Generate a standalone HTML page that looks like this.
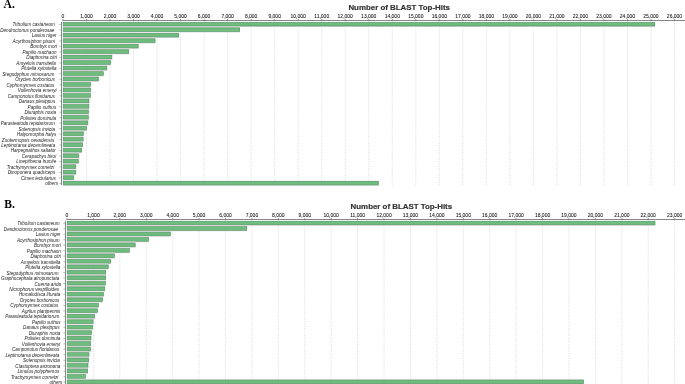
<!DOCTYPE html>
<html><head><meta charset="utf-8"><style>
html,body{margin:0;padding:0;background:#fff;width:685px;height:384px;overflow:hidden}
svg{display:block;will-change:transform}
.lb{font-family:"Liberation Sans",sans-serif;font-style:italic;font-size:4.6px;fill:#222;text-anchor:end}
.tl{font-family:"Liberation Sans",sans-serif;font-size:5px;fill:#1a1a1a;stroke:#1a1a1a;stroke-width:0.08px;text-anchor:middle}
.tt{font-family:"Liberation Sans",sans-serif;font-weight:bold;font-size:7.9px;fill:#333;stroke:#333;stroke-width:0.18px}
.pl{font-family:"Liberation Serif",serif;font-weight:bold;font-size:11.6px;fill:#000}
</style></head><body>
<svg width="685" height="384" viewBox="0 0 685 384">
<line x1="86.52" y1="20.80" x2="86.52" y2="185.00" stroke="#cbcbcb" stroke-width="0.6" stroke-dasharray="1.2 1.1"/>
<line x1="110.04" y1="20.80" x2="110.04" y2="185.00" stroke="#cbcbcb" stroke-width="0.6" stroke-dasharray="1.2 1.1"/>
<line x1="133.56" y1="20.80" x2="133.56" y2="185.00" stroke="#cbcbcb" stroke-width="0.6" stroke-dasharray="1.2 1.1"/>
<line x1="157.08" y1="20.80" x2="157.08" y2="185.00" stroke="#cbcbcb" stroke-width="0.6" stroke-dasharray="1.2 1.1"/>
<line x1="180.60" y1="20.80" x2="180.60" y2="185.00" stroke="#cbcbcb" stroke-width="0.6" stroke-dasharray="1.2 1.1"/>
<line x1="204.12" y1="20.80" x2="204.12" y2="185.00" stroke="#cbcbcb" stroke-width="0.6" stroke-dasharray="1.2 1.1"/>
<line x1="227.64" y1="20.80" x2="227.64" y2="185.00" stroke="#cbcbcb" stroke-width="0.6" stroke-dasharray="1.2 1.1"/>
<line x1="251.16" y1="20.80" x2="251.16" y2="185.00" stroke="#cbcbcb" stroke-width="0.6" stroke-dasharray="1.2 1.1"/>
<line x1="274.68" y1="20.80" x2="274.68" y2="185.00" stroke="#cbcbcb" stroke-width="0.6" stroke-dasharray="1.2 1.1"/>
<line x1="298.20" y1="20.80" x2="298.20" y2="185.00" stroke="#cbcbcb" stroke-width="0.6" stroke-dasharray="1.2 1.1"/>
<line x1="321.72" y1="20.80" x2="321.72" y2="185.00" stroke="#cbcbcb" stroke-width="0.6" stroke-dasharray="1.2 1.1"/>
<line x1="345.24" y1="20.80" x2="345.24" y2="185.00" stroke="#cbcbcb" stroke-width="0.6" stroke-dasharray="1.2 1.1"/>
<line x1="368.76" y1="20.80" x2="368.76" y2="185.00" stroke="#cbcbcb" stroke-width="0.6" stroke-dasharray="1.2 1.1"/>
<line x1="392.28" y1="20.80" x2="392.28" y2="185.00" stroke="#cbcbcb" stroke-width="0.6" stroke-dasharray="1.2 1.1"/>
<line x1="415.80" y1="20.80" x2="415.80" y2="185.00" stroke="#cbcbcb" stroke-width="0.6" stroke-dasharray="1.2 1.1"/>
<line x1="439.32" y1="20.80" x2="439.32" y2="185.00" stroke="#cbcbcb" stroke-width="0.6" stroke-dasharray="1.2 1.1"/>
<line x1="462.84" y1="20.80" x2="462.84" y2="185.00" stroke="#cbcbcb" stroke-width="0.6" stroke-dasharray="1.2 1.1"/>
<line x1="486.36" y1="20.80" x2="486.36" y2="185.00" stroke="#cbcbcb" stroke-width="0.6" stroke-dasharray="1.2 1.1"/>
<line x1="509.88" y1="20.80" x2="509.88" y2="185.00" stroke="#cbcbcb" stroke-width="0.6" stroke-dasharray="1.2 1.1"/>
<line x1="533.40" y1="20.80" x2="533.40" y2="185.00" stroke="#cbcbcb" stroke-width="0.6" stroke-dasharray="1.2 1.1"/>
<line x1="556.92" y1="20.80" x2="556.92" y2="185.00" stroke="#cbcbcb" stroke-width="0.6" stroke-dasharray="1.2 1.1"/>
<line x1="580.44" y1="20.80" x2="580.44" y2="185.00" stroke="#cbcbcb" stroke-width="0.6" stroke-dasharray="1.2 1.1"/>
<line x1="603.96" y1="20.80" x2="603.96" y2="185.00" stroke="#cbcbcb" stroke-width="0.6" stroke-dasharray="1.2 1.1"/>
<line x1="627.48" y1="20.80" x2="627.48" y2="185.00" stroke="#cbcbcb" stroke-width="0.6" stroke-dasharray="1.2 1.1"/>
<line x1="651.00" y1="20.80" x2="651.00" y2="185.00" stroke="#cbcbcb" stroke-width="0.6" stroke-dasharray="1.2 1.1"/>
<line x1="674.52" y1="20.80" x2="674.52" y2="185.00" stroke="#cbcbcb" stroke-width="0.6" stroke-dasharray="1.2 1.1"/>
<rect x="63.30" y="26.20" width="591.90" height="0.8" fill="#d9d9d9"/>
<rect x="63.20" y="22.40" width="591.50" height="3.60" fill="#6fbd7e" stroke="#4f9060" stroke-width="0.6"/>
<text x="54.90" y="26.45" class="lb">Tribolium castaneum</text>
<line x1="59.40" y1="24.50" x2="61.00" y2="24.50" stroke="#868686" stroke-width="0.6"/>
<rect x="63.30" y="31.68" width="176.90" height="0.8" fill="#d9d9d9"/>
<rect x="63.00" y="26.23" width="176.90" height="1.45" fill="#cfcfcf"/>
<rect x="63.20" y="27.88" width="176.50" height="3.60" fill="#6fbd7e" stroke="#4f9060" stroke-width="0.6"/>
<text x="54.40" y="31.93" class="lb">Dendroctonus ponderosae</text>
<line x1="59.40" y1="29.98" x2="61.00" y2="29.98" stroke="#868686" stroke-width="0.6"/>
<rect x="63.30" y="37.16" width="115.90" height="0.8" fill="#d9d9d9"/>
<rect x="63.00" y="32.71" width="115.90" height="0.45" fill="#d8d8d8"/>
<rect x="63.20" y="33.36" width="115.50" height="3.60" fill="#6fbd7e" stroke="#4f9060" stroke-width="0.6"/>
<text x="56.50" y="37.41" class="lb">Lasius niger</text>
<line x1="59.40" y1="35.46" x2="61.00" y2="35.46" stroke="#868686" stroke-width="0.6"/>
<rect x="63.30" y="42.64" width="92.30" height="0.8" fill="#d9d9d9"/>
<rect x="63.00" y="37.19" width="92.30" height="1.45" fill="#cfcfcf"/>
<rect x="63.20" y="38.84" width="91.90" height="3.60" fill="#6fbd7e" stroke="#4f9060" stroke-width="0.6"/>
<text x="55.20" y="42.89" class="lb">Acyrthosiphon pisum</text>
<line x1="59.40" y1="40.94" x2="61.00" y2="40.94" stroke="#868686" stroke-width="0.6"/>
<rect x="63.30" y="48.12" width="75.40" height="0.8" fill="#d9d9d9"/>
<rect x="63.00" y="43.67" width="75.40" height="0.45" fill="#d8d8d8"/>
<rect x="63.20" y="44.32" width="75.00" height="3.60" fill="#6fbd7e" stroke="#4f9060" stroke-width="0.6"/>
<text x="57.00" y="48.37" class="lb">Bombyx mori</text>
<line x1="59.40" y1="46.42" x2="61.00" y2="46.42" stroke="#868686" stroke-width="0.6"/>
<rect x="63.30" y="53.60" width="66.00" height="0.8" fill="#d9d9d9"/>
<rect x="63.00" y="48.15" width="66.00" height="1.45" fill="#cfcfcf"/>
<rect x="63.20" y="49.80" width="65.60" height="3.60" fill="#6fbd7e" stroke="#4f9060" stroke-width="0.6"/>
<text x="56.50" y="53.85" class="lb">Papilio machaon</text>
<line x1="59.40" y1="51.90" x2="61.00" y2="51.90" stroke="#868686" stroke-width="0.6"/>
<rect x="63.30" y="59.08" width="49.10" height="0.8" fill="#d9d9d9"/>
<rect x="63.00" y="54.63" width="49.10" height="0.45" fill="#d8d8d8"/>
<rect x="63.20" y="55.28" width="48.70" height="3.60" fill="#6fbd7e" stroke="#4f9060" stroke-width="0.6"/>
<text x="57.00" y="59.33" class="lb">Diaphorina citri</text>
<line x1="59.40" y1="57.38" x2="61.00" y2="57.38" stroke="#868686" stroke-width="0.6"/>
<rect x="63.30" y="64.56" width="47.80" height="0.8" fill="#d9d9d9"/>
<rect x="63.00" y="59.11" width="47.80" height="1.45" fill="#cfcfcf"/>
<rect x="63.20" y="60.76" width="47.40" height="3.60" fill="#6fbd7e" stroke="#4f9060" stroke-width="0.6"/>
<text x="55.90" y="64.81" class="lb">Amyelois transitella</text>
<line x1="59.40" y1="62.86" x2="61.00" y2="62.86" stroke="#868686" stroke-width="0.6"/>
<rect x="63.30" y="70.04" width="44.10" height="0.8" fill="#d9d9d9"/>
<rect x="63.00" y="65.59" width="44.10" height="0.45" fill="#d8d8d8"/>
<rect x="63.20" y="66.24" width="43.70" height="3.60" fill="#6fbd7e" stroke="#4f9060" stroke-width="0.6"/>
<text x="56.50" y="70.29" class="lb">Plutella xylostella</text>
<line x1="59.40" y1="68.34" x2="61.00" y2="68.34" stroke="#868686" stroke-width="0.6"/>
<rect x="63.30" y="75.52" width="40.60" height="0.8" fill="#d9d9d9"/>
<rect x="63.00" y="70.07" width="40.60" height="1.45" fill="#cfcfcf"/>
<rect x="63.20" y="71.72" width="40.20" height="3.60" fill="#6fbd7e" stroke="#4f9060" stroke-width="0.6"/>
<text x="54.40" y="75.77" class="lb">Stegodyphus mimosarum</text>
<line x1="59.40" y1="73.82" x2="61.00" y2="73.82" stroke="#868686" stroke-width="0.6"/>
<rect x="63.30" y="81.00" width="35.70" height="0.8" fill="#d9d9d9"/>
<rect x="63.00" y="76.00" width="35.70" height="1.0" fill="#dadada"/>
<rect x="63.20" y="77.20" width="35.30" height="3.60" fill="#6fbd7e" stroke="#4f9060" stroke-width="0.6"/>
<text x="54.90" y="81.25" class="lb">Oryctes borbonicus</text>
<line x1="59.40" y1="79.30" x2="61.00" y2="79.30" stroke="#868686" stroke-width="0.6"/>
<rect x="63.30" y="86.48" width="27.80" height="0.8" fill="#d9d9d9"/>
<rect x="63.00" y="81.48" width="27.80" height="1.0" fill="#dadada"/>
<rect x="63.20" y="82.68" width="27.40" height="3.60" fill="#6fbd7e" stroke="#4f9060" stroke-width="0.6"/>
<text x="54.40" y="86.73" class="lb">Cyphomyrmex costatus</text>
<line x1="59.40" y1="84.78" x2="61.00" y2="84.78" stroke="#868686" stroke-width="0.6"/>
<rect x="63.30" y="91.96" width="27.80" height="0.8" fill="#d9d9d9"/>
<rect x="63.00" y="86.96" width="27.80" height="1.0" fill="#dadada"/>
<rect x="63.20" y="88.16" width="27.40" height="3.60" fill="#6fbd7e" stroke="#4f9060" stroke-width="0.6"/>
<text x="56.50" y="92.21" class="lb">Vollenhovia emeryi</text>
<line x1="59.40" y1="90.26" x2="61.00" y2="90.26" stroke="#868686" stroke-width="0.6"/>
<rect x="63.30" y="97.44" width="27.60" height="0.8" fill="#d9d9d9"/>
<rect x="63.00" y="92.44" width="27.60" height="1.0" fill="#dadada"/>
<rect x="63.20" y="93.64" width="27.20" height="3.60" fill="#6fbd7e" stroke="#4f9060" stroke-width="0.6"/>
<text x="54.90" y="97.69" class="lb">Camponotus floridanus</text>
<line x1="59.40" y1="95.74" x2="61.00" y2="95.74" stroke="#868686" stroke-width="0.6"/>
<rect x="63.30" y="102.92" width="26.20" height="0.8" fill="#d9d9d9"/>
<rect x="63.00" y="97.92" width="26.20" height="1.0" fill="#dadada"/>
<rect x="63.20" y="99.12" width="25.80" height="3.60" fill="#6fbd7e" stroke="#4f9060" stroke-width="0.6"/>
<text x="55.20" y="103.17" class="lb">Danaus plexippus</text>
<line x1="59.40" y1="101.22" x2="61.00" y2="101.22" stroke="#868686" stroke-width="0.6"/>
<rect x="63.30" y="108.40" width="26.10" height="0.8" fill="#d9d9d9"/>
<rect x="63.00" y="103.40" width="26.10" height="1.0" fill="#dadada"/>
<rect x="63.20" y="104.60" width="25.70" height="3.60" fill="#6fbd7e" stroke="#4f9060" stroke-width="0.6"/>
<text x="56.20" y="108.65" class="lb">Papilio xuthus</text>
<line x1="59.40" y1="106.70" x2="61.00" y2="106.70" stroke="#868686" stroke-width="0.6"/>
<rect x="63.30" y="113.88" width="25.80" height="0.8" fill="#d9d9d9"/>
<rect x="63.00" y="108.88" width="25.80" height="1.0" fill="#dadada"/>
<rect x="63.20" y="110.08" width="25.40" height="3.60" fill="#6fbd7e" stroke="#4f9060" stroke-width="0.6"/>
<text x="56.20" y="114.13" class="lb">Diuraphis noxia</text>
<line x1="59.40" y1="112.18" x2="61.00" y2="112.18" stroke="#868686" stroke-width="0.6"/>
<rect x="63.30" y="119.36" width="25.50" height="0.8" fill="#d9d9d9"/>
<rect x="63.00" y="114.91" width="25.50" height="0.45" fill="#d8d8d8"/>
<rect x="63.20" y="115.56" width="25.10" height="3.60" fill="#6fbd7e" stroke="#4f9060" stroke-width="0.6"/>
<text x="56.20" y="119.61" class="lb">Polistes dominula</text>
<line x1="59.40" y1="117.66" x2="61.00" y2="117.66" stroke="#868686" stroke-width="0.6"/>
<rect x="63.30" y="124.84" width="25.10" height="0.8" fill="#d9d9d9"/>
<rect x="63.00" y="119.39" width="25.10" height="1.45" fill="#cfcfcf"/>
<rect x="63.20" y="121.04" width="24.70" height="3.60" fill="#6fbd7e" stroke="#4f9060" stroke-width="0.6"/>
<text x="54.90" y="125.09" class="lb">Parasteatoda tepidariorum</text>
<line x1="59.40" y1="123.14" x2="61.00" y2="123.14" stroke="#868686" stroke-width="0.6"/>
<rect x="63.30" y="130.32" width="23.50" height="0.8" fill="#d9d9d9"/>
<rect x="63.00" y="125.87" width="23.50" height="0.45" fill="#d8d8d8"/>
<rect x="63.20" y="126.52" width="23.10" height="3.60" fill="#6fbd7e" stroke="#4f9060" stroke-width="0.6"/>
<text x="55.20" y="130.57" class="lb">Solenopsis invicta</text>
<line x1="59.40" y1="128.62" x2="61.00" y2="128.62" stroke="#868686" stroke-width="0.6"/>
<rect x="63.30" y="135.80" width="20.70" height="0.8" fill="#d9d9d9"/>
<rect x="63.00" y="130.35" width="20.70" height="1.45" fill="#cfcfcf"/>
<rect x="63.20" y="132.00" width="20.30" height="3.60" fill="#6fbd7e" stroke="#4f9060" stroke-width="0.6"/>
<text x="56.20" y="136.05" class="lb">Halyomorpha halys</text>
<line x1="59.40" y1="134.10" x2="61.00" y2="134.10" stroke="#868686" stroke-width="0.6"/>
<rect x="63.30" y="141.28" width="20.30" height="0.8" fill="#d9d9d9"/>
<rect x="63.00" y="136.83" width="20.30" height="0.45" fill="#d8d8d8"/>
<rect x="63.20" y="137.48" width="19.90" height="3.60" fill="#6fbd7e" stroke="#4f9060" stroke-width="0.6"/>
<text x="54.20" y="141.53" class="lb">Zootermopsis nevadensis</text>
<line x1="59.40" y1="139.58" x2="61.00" y2="139.58" stroke="#868686" stroke-width="0.6"/>
<rect x="63.30" y="146.76" width="19.90" height="0.8" fill="#d9d9d9"/>
<rect x="63.00" y="141.31" width="19.90" height="1.45" fill="#cfcfcf"/>
<rect x="63.20" y="142.96" width="19.50" height="3.60" fill="#6fbd7e" stroke="#4f9060" stroke-width="0.6"/>
<text x="55.20" y="147.01" class="lb">Leptinotarsa decemlineata</text>
<line x1="59.40" y1="145.06" x2="61.00" y2="145.06" stroke="#868686" stroke-width="0.6"/>
<rect x="63.30" y="152.24" width="18.90" height="0.8" fill="#d9d9d9"/>
<rect x="63.00" y="147.79" width="18.90" height="0.45" fill="#d8d8d8"/>
<rect x="63.20" y="148.44" width="18.50" height="3.60" fill="#6fbd7e" stroke="#4f9060" stroke-width="0.6"/>
<text x="55.90" y="152.49" class="lb">Harpegnathos saltator</text>
<line x1="59.40" y1="150.54" x2="61.00" y2="150.54" stroke="#868686" stroke-width="0.6"/>
<rect x="63.30" y="157.72" width="16.00" height="0.8" fill="#d9d9d9"/>
<rect x="63.00" y="152.27" width="16.00" height="1.45" fill="#cfcfcf"/>
<rect x="63.20" y="153.92" width="15.60" height="3.60" fill="#6fbd7e" stroke="#4f9060" stroke-width="0.6"/>
<text x="56.20" y="157.97" class="lb">Cerapachys biroi</text>
<line x1="59.40" y1="156.02" x2="61.00" y2="156.02" stroke="#868686" stroke-width="0.6"/>
<rect x="63.30" y="163.20" width="15.50" height="0.8" fill="#d9d9d9"/>
<rect x="63.00" y="158.75" width="15.50" height="0.45" fill="#d8d8d8"/>
<rect x="63.20" y="159.40" width="15.10" height="3.60" fill="#6fbd7e" stroke="#4f9060" stroke-width="0.6"/>
<text x="56.20" y="163.45" class="lb">Linepithema humile</text>
<line x1="59.40" y1="161.50" x2="61.00" y2="161.50" stroke="#868686" stroke-width="0.6"/>
<rect x="63.30" y="168.68" width="13.00" height="0.8" fill="#d9d9d9"/>
<rect x="63.00" y="163.23" width="13.00" height="1.45" fill="#cfcfcf"/>
<rect x="63.20" y="164.88" width="12.60" height="3.60" fill="#6fbd7e" stroke="#4f9060" stroke-width="0.6"/>
<text x="54.20" y="168.93" class="lb">Trachymyrmex cornetzi</text>
<line x1="59.40" y1="166.98" x2="61.00" y2="166.98" stroke="#868686" stroke-width="0.6"/>
<rect x="63.30" y="174.16" width="13.00" height="0.8" fill="#d9d9d9"/>
<rect x="63.00" y="169.71" width="13.00" height="0.45" fill="#d8d8d8"/>
<rect x="63.20" y="170.36" width="12.60" height="3.60" fill="#6fbd7e" stroke="#4f9060" stroke-width="0.6"/>
<text x="55.20" y="174.41" class="lb">Dinoponera quadriceps</text>
<line x1="59.40" y1="172.46" x2="61.00" y2="172.46" stroke="#868686" stroke-width="0.6"/>
<rect x="63.30" y="179.64" width="11.00" height="0.8" fill="#d9d9d9"/>
<rect x="63.00" y="174.19" width="11.00" height="1.45" fill="#cfcfcf"/>
<rect x="63.20" y="175.84" width="10.60" height="3.60" fill="#6fbd7e" stroke="#4f9060" stroke-width="0.6"/>
<text x="55.90" y="179.89" class="lb">Cimex lectularius</text>
<line x1="59.40" y1="177.94" x2="61.00" y2="177.94" stroke="#868686" stroke-width="0.6"/>
<rect x="63.30" y="185.12" width="315.60" height="0.8" fill="#d9d9d9"/>
<rect x="63.00" y="180.67" width="315.60" height="0.45" fill="#d8d8d8"/>
<rect x="63.20" y="181.32" width="315.20" height="3.60" fill="#6fbd7e" stroke="#4f9060" stroke-width="0.6"/>
<text x="58.00" y="185.37" class="lb">others</text>
<line x1="59.40" y1="183.42" x2="61.00" y2="183.42" stroke="#868686" stroke-width="0.6"/>
<rect x="61.00" y="22.00" width="1" height="163.00" fill="#868686"/>
<rect x="62.50" y="20.00" width="622.50" height="1" fill="#868686"/>
<line x1="63.00" y1="19.00" x2="63.00" y2="20.60" stroke="#555" stroke-width="0.6"/>
<text x="63.00" y="17.60" class="tl">0</text>
<line x1="86.52" y1="19.00" x2="86.52" y2="20.60" stroke="#555" stroke-width="0.6"/>
<text x="86.52" y="17.60" class="tl">1,000</text>
<line x1="110.04" y1="19.00" x2="110.04" y2="20.60" stroke="#555" stroke-width="0.6"/>
<text x="110.04" y="17.60" class="tl">2,000</text>
<line x1="133.56" y1="19.00" x2="133.56" y2="20.60" stroke="#555" stroke-width="0.6"/>
<text x="133.56" y="17.60" class="tl">3,000</text>
<line x1="157.08" y1="19.00" x2="157.08" y2="20.60" stroke="#555" stroke-width="0.6"/>
<text x="157.08" y="17.60" class="tl">4,000</text>
<line x1="180.60" y1="19.00" x2="180.60" y2="20.60" stroke="#555" stroke-width="0.6"/>
<text x="180.60" y="17.60" class="tl">5,000</text>
<line x1="204.12" y1="19.00" x2="204.12" y2="20.60" stroke="#555" stroke-width="0.6"/>
<text x="204.12" y="17.60" class="tl">6,000</text>
<line x1="227.64" y1="19.00" x2="227.64" y2="20.60" stroke="#555" stroke-width="0.6"/>
<text x="227.64" y="17.60" class="tl">7,000</text>
<line x1="251.16" y1="19.00" x2="251.16" y2="20.60" stroke="#555" stroke-width="0.6"/>
<text x="251.16" y="17.60" class="tl">8,000</text>
<line x1="274.68" y1="19.00" x2="274.68" y2="20.60" stroke="#555" stroke-width="0.6"/>
<text x="274.68" y="17.60" class="tl">9,000</text>
<line x1="298.20" y1="19.00" x2="298.20" y2="20.60" stroke="#555" stroke-width="0.6"/>
<text x="298.20" y="17.60" class="tl">10,000</text>
<line x1="321.72" y1="19.00" x2="321.72" y2="20.60" stroke="#555" stroke-width="0.6"/>
<text x="321.72" y="17.60" class="tl">11,000</text>
<line x1="345.24" y1="19.00" x2="345.24" y2="20.60" stroke="#555" stroke-width="0.6"/>
<text x="345.24" y="17.60" class="tl">12,000</text>
<line x1="368.76" y1="19.00" x2="368.76" y2="20.60" stroke="#555" stroke-width="0.6"/>
<text x="368.76" y="17.60" class="tl">13,000</text>
<line x1="392.28" y1="19.00" x2="392.28" y2="20.60" stroke="#555" stroke-width="0.6"/>
<text x="392.28" y="17.60" class="tl">14,000</text>
<line x1="415.80" y1="19.00" x2="415.80" y2="20.60" stroke="#555" stroke-width="0.6"/>
<text x="415.80" y="17.60" class="tl">15,000</text>
<line x1="439.32" y1="19.00" x2="439.32" y2="20.60" stroke="#555" stroke-width="0.6"/>
<text x="439.32" y="17.60" class="tl">16,000</text>
<line x1="462.84" y1="19.00" x2="462.84" y2="20.60" stroke="#555" stroke-width="0.6"/>
<text x="462.84" y="17.60" class="tl">17,000</text>
<line x1="486.36" y1="19.00" x2="486.36" y2="20.60" stroke="#555" stroke-width="0.6"/>
<text x="486.36" y="17.60" class="tl">18,000</text>
<line x1="509.88" y1="19.00" x2="509.88" y2="20.60" stroke="#555" stroke-width="0.6"/>
<text x="509.88" y="17.60" class="tl">19,000</text>
<line x1="533.40" y1="19.00" x2="533.40" y2="20.60" stroke="#555" stroke-width="0.6"/>
<text x="533.40" y="17.60" class="tl">20,000</text>
<line x1="556.92" y1="19.00" x2="556.92" y2="20.60" stroke="#555" stroke-width="0.6"/>
<text x="556.92" y="17.60" class="tl">21,000</text>
<line x1="580.44" y1="19.00" x2="580.44" y2="20.60" stroke="#555" stroke-width="0.6"/>
<text x="580.44" y="17.60" class="tl">22,000</text>
<line x1="603.96" y1="19.00" x2="603.96" y2="20.60" stroke="#555" stroke-width="0.6"/>
<text x="603.96" y="17.60" class="tl">23,000</text>
<line x1="627.48" y1="19.00" x2="627.48" y2="20.60" stroke="#555" stroke-width="0.6"/>
<text x="627.48" y="17.60" class="tl">24,000</text>
<line x1="651.00" y1="19.00" x2="651.00" y2="20.60" stroke="#555" stroke-width="0.6"/>
<text x="651.00" y="17.60" class="tl">25,000</text>
<line x1="674.52" y1="19.00" x2="674.52" y2="20.60" stroke="#555" stroke-width="0.6"/>
<text x="674.52" y="17.60" class="tl">26,000</text>
<text x="348.40" y="10.20" class="tt">Number of BLAST Top-Hits</text>
<text x="3.60" y="7.70" class="pl">A.</text>
<line x1="93.42" y1="219.80" x2="93.42" y2="384.50" stroke="#cbcbcb" stroke-width="0.6" stroke-dasharray="1.2 1.1"/>
<line x1="119.84" y1="219.80" x2="119.84" y2="384.50" stroke="#cbcbcb" stroke-width="0.6" stroke-dasharray="1.2 1.1"/>
<line x1="146.26" y1="219.80" x2="146.26" y2="384.50" stroke="#cbcbcb" stroke-width="0.6" stroke-dasharray="1.2 1.1"/>
<line x1="172.68" y1="219.80" x2="172.68" y2="384.50" stroke="#cbcbcb" stroke-width="0.6" stroke-dasharray="1.2 1.1"/>
<line x1="199.10" y1="219.80" x2="199.10" y2="384.50" stroke="#cbcbcb" stroke-width="0.6" stroke-dasharray="1.2 1.1"/>
<line x1="225.52" y1="219.80" x2="225.52" y2="384.50" stroke="#cbcbcb" stroke-width="0.6" stroke-dasharray="1.2 1.1"/>
<line x1="251.94" y1="219.80" x2="251.94" y2="384.50" stroke="#cbcbcb" stroke-width="0.6" stroke-dasharray="1.2 1.1"/>
<line x1="278.36" y1="219.80" x2="278.36" y2="384.50" stroke="#cbcbcb" stroke-width="0.6" stroke-dasharray="1.2 1.1"/>
<line x1="304.78" y1="219.80" x2="304.78" y2="384.50" stroke="#cbcbcb" stroke-width="0.6" stroke-dasharray="1.2 1.1"/>
<line x1="331.20" y1="219.80" x2="331.20" y2="384.50" stroke="#cbcbcb" stroke-width="0.6" stroke-dasharray="1.2 1.1"/>
<line x1="357.62" y1="219.80" x2="357.62" y2="384.50" stroke="#cbcbcb" stroke-width="0.6" stroke-dasharray="1.2 1.1"/>
<line x1="384.04" y1="219.80" x2="384.04" y2="384.50" stroke="#cbcbcb" stroke-width="0.6" stroke-dasharray="1.2 1.1"/>
<line x1="410.46" y1="219.80" x2="410.46" y2="384.50" stroke="#cbcbcb" stroke-width="0.6" stroke-dasharray="1.2 1.1"/>
<line x1="436.88" y1="219.80" x2="436.88" y2="384.50" stroke="#cbcbcb" stroke-width="0.6" stroke-dasharray="1.2 1.1"/>
<line x1="463.30" y1="219.80" x2="463.30" y2="384.50" stroke="#cbcbcb" stroke-width="0.6" stroke-dasharray="1.2 1.1"/>
<line x1="489.72" y1="219.80" x2="489.72" y2="384.50" stroke="#cbcbcb" stroke-width="0.6" stroke-dasharray="1.2 1.1"/>
<line x1="516.14" y1="219.80" x2="516.14" y2="384.50" stroke="#cbcbcb" stroke-width="0.6" stroke-dasharray="1.2 1.1"/>
<line x1="542.56" y1="219.80" x2="542.56" y2="384.50" stroke="#cbcbcb" stroke-width="0.6" stroke-dasharray="1.2 1.1"/>
<line x1="568.98" y1="219.80" x2="568.98" y2="384.50" stroke="#cbcbcb" stroke-width="0.6" stroke-dasharray="1.2 1.1"/>
<line x1="595.40" y1="219.80" x2="595.40" y2="384.50" stroke="#cbcbcb" stroke-width="0.6" stroke-dasharray="1.2 1.1"/>
<line x1="621.82" y1="219.80" x2="621.82" y2="384.50" stroke="#cbcbcb" stroke-width="0.6" stroke-dasharray="1.2 1.1"/>
<line x1="648.24" y1="219.80" x2="648.24" y2="384.50" stroke="#cbcbcb" stroke-width="0.6" stroke-dasharray="1.2 1.1"/>
<line x1="674.66" y1="219.80" x2="674.66" y2="384.50" stroke="#cbcbcb" stroke-width="0.6" stroke-dasharray="1.2 1.1"/>
<rect x="67.30" y="225.00" width="588.20" height="0.8" fill="#d9d9d9"/>
<rect x="67.20" y="221.20" width="587.80" height="3.60" fill="#6fbd7e" stroke="#4f9060" stroke-width="0.6"/>
<text x="59.60" y="225.25" class="lb">Tribolium castaneum</text>
<line x1="63.40" y1="223.30" x2="65.00" y2="223.30" stroke="#868686" stroke-width="0.6"/>
<rect x="67.30" y="230.48" width="179.90" height="0.8" fill="#d9d9d9"/>
<rect x="67.00" y="225.48" width="179.90" height="1.0" fill="#dadada"/>
<rect x="67.20" y="226.68" width="179.50" height="3.60" fill="#6fbd7e" stroke="#4f9060" stroke-width="0.6"/>
<text x="58.00" y="230.73" class="lb">Dendroctonus ponderosae</text>
<line x1="63.40" y1="228.78" x2="65.00" y2="228.78" stroke="#868686" stroke-width="0.6"/>
<rect x="67.30" y="235.96" width="103.60" height="0.8" fill="#d9d9d9"/>
<rect x="67.00" y="230.96" width="103.60" height="1.0" fill="#dadada"/>
<rect x="67.20" y="232.16" width="103.20" height="3.60" fill="#6fbd7e" stroke="#4f9060" stroke-width="0.6"/>
<text x="60.60" y="236.21" class="lb">Lasius niger</text>
<line x1="63.40" y1="234.26" x2="65.00" y2="234.26" stroke="#868686" stroke-width="0.6"/>
<rect x="67.30" y="241.44" width="81.80" height="0.8" fill="#d9d9d9"/>
<rect x="67.00" y="236.44" width="81.80" height="1.0" fill="#dadada"/>
<rect x="67.20" y="237.64" width="81.40" height="3.60" fill="#6fbd7e" stroke="#4f9060" stroke-width="0.6"/>
<text x="59.60" y="241.69" class="lb">Acyrthosiphon pisum</text>
<line x1="63.40" y1="239.74" x2="65.00" y2="239.74" stroke="#868686" stroke-width="0.6"/>
<rect x="67.30" y="246.92" width="68.40" height="0.8" fill="#d9d9d9"/>
<rect x="67.00" y="241.47" width="68.40" height="1.45" fill="#cfcfcf"/>
<rect x="67.20" y="243.12" width="68.00" height="3.60" fill="#6fbd7e" stroke="#4f9060" stroke-width="0.6"/>
<text x="60.80" y="247.17" class="lb">Bombyx mori</text>
<line x1="63.40" y1="245.22" x2="65.00" y2="245.22" stroke="#868686" stroke-width="0.6"/>
<rect x="67.30" y="252.40" width="62.60" height="0.8" fill="#d9d9d9"/>
<rect x="67.00" y="247.95" width="62.60" height="0.45" fill="#d8d8d8"/>
<rect x="67.20" y="248.60" width="62.20" height="3.60" fill="#6fbd7e" stroke="#4f9060" stroke-width="0.6"/>
<text x="60.80" y="252.65" class="lb">Papilio machaon</text>
<line x1="63.40" y1="250.70" x2="65.00" y2="250.70" stroke="#868686" stroke-width="0.6"/>
<rect x="67.30" y="257.88" width="47.70" height="0.8" fill="#d9d9d9"/>
<rect x="67.00" y="252.43" width="47.70" height="1.45" fill="#cfcfcf"/>
<rect x="67.20" y="254.08" width="47.30" height="3.60" fill="#6fbd7e" stroke="#4f9060" stroke-width="0.6"/>
<text x="61.10" y="258.13" class="lb">Diaphorina citri</text>
<line x1="63.40" y1="256.18" x2="65.00" y2="256.18" stroke="#868686" stroke-width="0.6"/>
<rect x="67.30" y="263.36" width="43.80" height="0.8" fill="#d9d9d9"/>
<rect x="67.00" y="258.91" width="43.80" height="0.45" fill="#d8d8d8"/>
<rect x="67.20" y="259.56" width="43.40" height="3.60" fill="#6fbd7e" stroke="#4f9060" stroke-width="0.6"/>
<text x="60.40" y="263.61" class="lb">Amyelois transitella</text>
<line x1="63.40" y1="261.66" x2="65.00" y2="261.66" stroke="#868686" stroke-width="0.6"/>
<rect x="67.30" y="268.84" width="41.50" height="0.8" fill="#d9d9d9"/>
<rect x="67.00" y="263.39" width="41.50" height="1.45" fill="#cfcfcf"/>
<rect x="67.20" y="265.04" width="41.10" height="3.60" fill="#6fbd7e" stroke="#4f9060" stroke-width="0.6"/>
<text x="60.40" y="269.09" class="lb">Plutella xylostella</text>
<line x1="63.40" y1="267.14" x2="65.00" y2="267.14" stroke="#868686" stroke-width="0.6"/>
<rect x="67.30" y="274.32" width="38.90" height="0.8" fill="#d9d9d9"/>
<rect x="67.00" y="269.87" width="38.90" height="0.45" fill="#d8d8d8"/>
<rect x="67.20" y="270.52" width="38.50" height="3.60" fill="#6fbd7e" stroke="#4f9060" stroke-width="0.6"/>
<text x="58.50" y="274.57" class="lb">Stegodyphus mimosarum</text>
<line x1="63.40" y1="272.62" x2="65.00" y2="272.62" stroke="#868686" stroke-width="0.6"/>
<rect x="67.30" y="279.80" width="38.90" height="0.8" fill="#d9d9d9"/>
<rect x="67.00" y="274.35" width="38.90" height="1.45" fill="#cfcfcf"/>
<rect x="67.20" y="276.00" width="38.50" height="3.60" fill="#6fbd7e" stroke="#4f9060" stroke-width="0.6"/>
<text x="59.30" y="280.05" class="lb">Graphocephala atropunctata</text>
<line x1="63.40" y1="278.10" x2="65.00" y2="278.10" stroke="#868686" stroke-width="0.6"/>
<rect x="67.30" y="285.28" width="38.60" height="0.8" fill="#d9d9d9"/>
<rect x="67.00" y="280.83" width="38.60" height="0.45" fill="#d8d8d8"/>
<rect x="67.20" y="281.48" width="38.20" height="3.60" fill="#6fbd7e" stroke="#4f9060" stroke-width="0.6"/>
<text x="61.10" y="285.53" class="lb">Cuerna arida</text>
<line x1="63.40" y1="283.58" x2="65.00" y2="283.58" stroke="#868686" stroke-width="0.6"/>
<rect x="67.30" y="290.76" width="38.00" height="0.8" fill="#d9d9d9"/>
<rect x="67.00" y="285.31" width="38.00" height="1.45" fill="#cfcfcf"/>
<rect x="67.20" y="286.96" width="37.60" height="3.60" fill="#6fbd7e" stroke="#4f9060" stroke-width="0.6"/>
<text x="59.00" y="291.01" class="lb">Nicrophorus vespilloides</text>
<line x1="63.40" y1="289.06" x2="65.00" y2="289.06" stroke="#868686" stroke-width="0.6"/>
<rect x="67.30" y="296.24" width="36.70" height="0.8" fill="#d9d9d9"/>
<rect x="67.00" y="291.79" width="36.70" height="0.45" fill="#d8d8d8"/>
<rect x="67.20" y="292.44" width="36.30" height="3.60" fill="#6fbd7e" stroke="#4f9060" stroke-width="0.6"/>
<text x="60.40" y="296.49" class="lb">Homalodisca liturata</text>
<line x1="63.40" y1="294.54" x2="65.00" y2="294.54" stroke="#868686" stroke-width="0.6"/>
<rect x="67.30" y="301.72" width="35.80" height="0.8" fill="#d9d9d9"/>
<rect x="67.00" y="296.27" width="35.80" height="1.45" fill="#cfcfcf"/>
<rect x="67.20" y="297.92" width="35.40" height="3.60" fill="#6fbd7e" stroke="#4f9060" stroke-width="0.6"/>
<text x="59.30" y="301.97" class="lb">Oryctes borbonicus</text>
<line x1="63.40" y1="300.02" x2="65.00" y2="300.02" stroke="#868686" stroke-width="0.6"/>
<rect x="67.30" y="307.20" width="31.60" height="0.8" fill="#d9d9d9"/>
<rect x="67.00" y="302.75" width="31.60" height="0.45" fill="#d8d8d8"/>
<rect x="67.20" y="303.40" width="31.20" height="3.60" fill="#6fbd7e" stroke="#4f9060" stroke-width="0.6"/>
<text x="58.30" y="307.45" class="lb">Cyphomyrmex costatus</text>
<line x1="63.40" y1="305.50" x2="65.00" y2="305.50" stroke="#868686" stroke-width="0.6"/>
<rect x="67.30" y="312.68" width="30.70" height="0.8" fill="#d9d9d9"/>
<rect x="67.00" y="307.68" width="30.70" height="1.0" fill="#dadada"/>
<rect x="67.20" y="308.88" width="30.30" height="3.60" fill="#6fbd7e" stroke="#4f9060" stroke-width="0.6"/>
<text x="60.40" y="312.93" class="lb">Agrilus planipennis</text>
<line x1="63.40" y1="310.98" x2="65.00" y2="310.98" stroke="#868686" stroke-width="0.6"/>
<rect x="67.30" y="318.16" width="27.80" height="0.8" fill="#d9d9d9"/>
<rect x="67.00" y="313.71" width="27.80" height="0.45" fill="#d8d8d8"/>
<rect x="67.20" y="314.36" width="27.40" height="3.60" fill="#6fbd7e" stroke="#4f9060" stroke-width="0.6"/>
<text x="59.30" y="318.41" class="lb">Parasteatoda tepidariorum</text>
<line x1="63.40" y1="316.46" x2="65.00" y2="316.46" stroke="#868686" stroke-width="0.6"/>
<rect x="67.30" y="323.64" width="26.30" height="0.8" fill="#d9d9d9"/>
<rect x="67.00" y="318.64" width="26.30" height="1.0" fill="#dadada"/>
<rect x="67.20" y="319.84" width="25.90" height="3.60" fill="#6fbd7e" stroke="#4f9060" stroke-width="0.6"/>
<text x="60.60" y="323.89" class="lb">Papilio xuthus</text>
<line x1="63.40" y1="321.94" x2="65.00" y2="321.94" stroke="#868686" stroke-width="0.6"/>
<rect x="67.30" y="329.12" width="25.80" height="0.8" fill="#d9d9d9"/>
<rect x="67.00" y="324.67" width="25.80" height="0.45" fill="#d8d8d8"/>
<rect x="67.20" y="325.32" width="25.40" height="3.60" fill="#6fbd7e" stroke="#4f9060" stroke-width="0.6"/>
<text x="59.60" y="329.37" class="lb">Danaus plexippus</text>
<line x1="63.40" y1="327.42" x2="65.00" y2="327.42" stroke="#868686" stroke-width="0.6"/>
<rect x="67.30" y="334.60" width="24.80" height="0.8" fill="#d9d9d9"/>
<rect x="67.00" y="329.60" width="24.80" height="1.0" fill="#dadada"/>
<rect x="67.20" y="330.80" width="24.40" height="3.60" fill="#6fbd7e" stroke="#4f9060" stroke-width="0.6"/>
<text x="60.40" y="334.85" class="lb">Diuraphis noxia</text>
<line x1="63.40" y1="332.90" x2="65.00" y2="332.90" stroke="#868686" stroke-width="0.6"/>
<rect x="67.30" y="340.08" width="24.20" height="0.8" fill="#d9d9d9"/>
<rect x="67.00" y="335.08" width="24.20" height="1.0" fill="#dadada"/>
<rect x="67.20" y="336.28" width="23.80" height="3.60" fill="#6fbd7e" stroke="#4f9060" stroke-width="0.6"/>
<text x="60.40" y="340.33" class="lb">Polistes dominula</text>
<line x1="63.40" y1="338.38" x2="65.00" y2="338.38" stroke="#868686" stroke-width="0.6"/>
<rect x="67.30" y="345.56" width="23.90" height="0.8" fill="#d9d9d9"/>
<rect x="67.00" y="341.11" width="23.90" height="0.45" fill="#d8d8d8"/>
<rect x="67.20" y="341.76" width="23.50" height="3.60" fill="#6fbd7e" stroke="#4f9060" stroke-width="0.6"/>
<text x="60.40" y="345.81" class="lb">Vollenhovia emeryi</text>
<line x1="63.40" y1="343.86" x2="65.00" y2="343.86" stroke="#868686" stroke-width="0.6"/>
<rect x="67.30" y="351.04" width="23.70" height="0.8" fill="#d9d9d9"/>
<rect x="67.00" y="346.04" width="23.70" height="1.0" fill="#dadada"/>
<rect x="67.20" y="347.24" width="23.30" height="3.60" fill="#6fbd7e" stroke="#4f9060" stroke-width="0.6"/>
<text x="59.30" y="351.29" class="lb">Camponotus floridanus</text>
<line x1="63.40" y1="349.34" x2="65.00" y2="349.34" stroke="#868686" stroke-width="0.6"/>
<rect x="67.30" y="356.52" width="22.20" height="0.8" fill="#d9d9d9"/>
<rect x="67.00" y="352.07" width="22.20" height="0.45" fill="#d8d8d8"/>
<rect x="67.20" y="352.72" width="21.80" height="3.60" fill="#6fbd7e" stroke="#4f9060" stroke-width="0.6"/>
<text x="59.30" y="356.77" class="lb">Leptinotarsa decemlineata</text>
<line x1="63.40" y1="354.82" x2="65.00" y2="354.82" stroke="#868686" stroke-width="0.6"/>
<rect x="67.30" y="362.00" width="21.90" height="0.8" fill="#d9d9d9"/>
<rect x="67.00" y="356.55" width="21.90" height="1.45" fill="#cfcfcf"/>
<rect x="67.20" y="358.20" width="21.50" height="3.60" fill="#6fbd7e" stroke="#4f9060" stroke-width="0.6"/>
<text x="59.80" y="362.25" class="lb">Solenopsis invicta</text>
<line x1="63.40" y1="360.30" x2="65.00" y2="360.30" stroke="#868686" stroke-width="0.6"/>
<rect x="67.30" y="367.48" width="21.20" height="0.8" fill="#d9d9d9"/>
<rect x="67.00" y="363.03" width="21.20" height="0.45" fill="#d8d8d8"/>
<rect x="67.20" y="363.68" width="20.80" height="3.60" fill="#6fbd7e" stroke="#4f9060" stroke-width="0.6"/>
<text x="60.30" y="367.73" class="lb">Clastoptera arizonana</text>
<line x1="63.40" y1="365.78" x2="65.00" y2="365.78" stroke="#868686" stroke-width="0.6"/>
<rect x="67.30" y="372.96" width="20.90" height="0.8" fill="#d9d9d9"/>
<rect x="67.00" y="367.51" width="20.90" height="1.45" fill="#cfcfcf"/>
<rect x="67.20" y="369.16" width="20.50" height="3.60" fill="#6fbd7e" stroke="#4f9060" stroke-width="0.6"/>
<text x="59.30" y="373.21" class="lb">Limulus polyphemus</text>
<line x1="63.40" y1="371.26" x2="65.00" y2="371.26" stroke="#868686" stroke-width="0.6"/>
<rect x="67.30" y="378.44" width="18.60" height="0.8" fill="#d9d9d9"/>
<rect x="67.00" y="373.99" width="18.60" height="0.45" fill="#d8d8d8"/>
<rect x="67.20" y="374.64" width="18.20" height="3.60" fill="#6fbd7e" stroke="#4f9060" stroke-width="0.6"/>
<text x="58.30" y="378.69" class="lb">Trachymyrmex cornetzi</text>
<line x1="63.40" y1="376.74" x2="65.00" y2="376.74" stroke="#868686" stroke-width="0.6"/>
<rect x="67.30" y="383.92" width="516.80" height="0.8" fill="#d9d9d9"/>
<rect x="67.00" y="378.92" width="516.80" height="1.0" fill="#dadada"/>
<rect x="67.20" y="380.12" width="516.40" height="3.60" fill="#6fbd7e" stroke="#4f9060" stroke-width="0.6"/>
<text x="62.30" y="384.17" class="lb">others</text>
<line x1="63.40" y1="382.22" x2="65.00" y2="382.22" stroke="#868686" stroke-width="0.6"/>
<rect x="65.00" y="220.80" width="1" height="163.70" fill="#868686"/>
<rect x="66.50" y="219.00" width="618.50" height="1" fill="#868686"/>
<line x1="67.00" y1="218.00" x2="67.00" y2="219.60" stroke="#555" stroke-width="0.6"/>
<text x="67.00" y="216.60" class="tl">0</text>
<line x1="93.42" y1="218.00" x2="93.42" y2="219.60" stroke="#555" stroke-width="0.6"/>
<text x="93.42" y="216.60" class="tl">1,000</text>
<line x1="119.84" y1="218.00" x2="119.84" y2="219.60" stroke="#555" stroke-width="0.6"/>
<text x="119.84" y="216.60" class="tl">2,000</text>
<line x1="146.26" y1="218.00" x2="146.26" y2="219.60" stroke="#555" stroke-width="0.6"/>
<text x="146.26" y="216.60" class="tl">3,000</text>
<line x1="172.68" y1="218.00" x2="172.68" y2="219.60" stroke="#555" stroke-width="0.6"/>
<text x="172.68" y="216.60" class="tl">4,000</text>
<line x1="199.10" y1="218.00" x2="199.10" y2="219.60" stroke="#555" stroke-width="0.6"/>
<text x="199.10" y="216.60" class="tl">5,000</text>
<line x1="225.52" y1="218.00" x2="225.52" y2="219.60" stroke="#555" stroke-width="0.6"/>
<text x="225.52" y="216.60" class="tl">6,000</text>
<line x1="251.94" y1="218.00" x2="251.94" y2="219.60" stroke="#555" stroke-width="0.6"/>
<text x="251.94" y="216.60" class="tl">7,000</text>
<line x1="278.36" y1="218.00" x2="278.36" y2="219.60" stroke="#555" stroke-width="0.6"/>
<text x="278.36" y="216.60" class="tl">8,000</text>
<line x1="304.78" y1="218.00" x2="304.78" y2="219.60" stroke="#555" stroke-width="0.6"/>
<text x="304.78" y="216.60" class="tl">9,000</text>
<line x1="331.20" y1="218.00" x2="331.20" y2="219.60" stroke="#555" stroke-width="0.6"/>
<text x="331.20" y="216.60" class="tl">10,000</text>
<line x1="357.62" y1="218.00" x2="357.62" y2="219.60" stroke="#555" stroke-width="0.6"/>
<text x="357.62" y="216.60" class="tl">11,000</text>
<line x1="384.04" y1="218.00" x2="384.04" y2="219.60" stroke="#555" stroke-width="0.6"/>
<text x="384.04" y="216.60" class="tl">12,000</text>
<line x1="410.46" y1="218.00" x2="410.46" y2="219.60" stroke="#555" stroke-width="0.6"/>
<text x="410.46" y="216.60" class="tl">13,000</text>
<line x1="436.88" y1="218.00" x2="436.88" y2="219.60" stroke="#555" stroke-width="0.6"/>
<text x="436.88" y="216.60" class="tl">14,000</text>
<line x1="463.30" y1="218.00" x2="463.30" y2="219.60" stroke="#555" stroke-width="0.6"/>
<text x="463.30" y="216.60" class="tl">15,000</text>
<line x1="489.72" y1="218.00" x2="489.72" y2="219.60" stroke="#555" stroke-width="0.6"/>
<text x="489.72" y="216.60" class="tl">16,000</text>
<line x1="516.14" y1="218.00" x2="516.14" y2="219.60" stroke="#555" stroke-width="0.6"/>
<text x="516.14" y="216.60" class="tl">17,000</text>
<line x1="542.56" y1="218.00" x2="542.56" y2="219.60" stroke="#555" stroke-width="0.6"/>
<text x="542.56" y="216.60" class="tl">18,000</text>
<line x1="568.98" y1="218.00" x2="568.98" y2="219.60" stroke="#555" stroke-width="0.6"/>
<text x="568.98" y="216.60" class="tl">19,000</text>
<line x1="595.40" y1="218.00" x2="595.40" y2="219.60" stroke="#555" stroke-width="0.6"/>
<text x="595.40" y="216.60" class="tl">20,000</text>
<line x1="621.82" y1="218.00" x2="621.82" y2="219.60" stroke="#555" stroke-width="0.6"/>
<text x="621.82" y="216.60" class="tl">21,000</text>
<line x1="648.24" y1="218.00" x2="648.24" y2="219.60" stroke="#555" stroke-width="0.6"/>
<text x="648.24" y="216.60" class="tl">22,000</text>
<line x1="674.66" y1="218.00" x2="674.66" y2="219.60" stroke="#555" stroke-width="0.6"/>
<text x="674.66" y="216.60" class="tl">23,000</text>
<text x="350.60" y="209.10" class="tt">Number of BLAST Top-Hits</text>
<text x="4.30" y="208.10" class="pl">B.</text>
</svg>
</body></html>
